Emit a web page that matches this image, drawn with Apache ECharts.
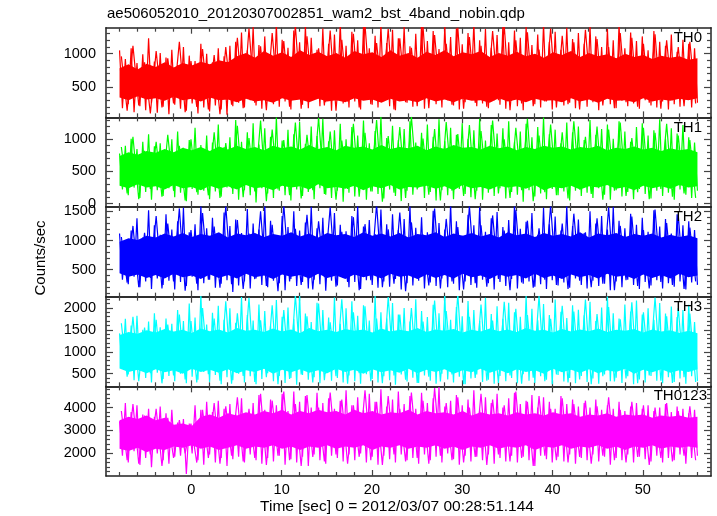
<!DOCTYPE html>
<html>
<head>
<meta charset="utf-8">
<script src="https://cdn.jsdelivr.net/npm/echarts@6/dist/echarts.min.js"></script>
<style>html,body{margin:0;padding:0;background:#fff}#chart{width:717px;height:516px}</style>
</head>
<body>
<div id="chart"></div>
<script>
const titleText = "ae506052010_20120307002851_wam2_bst_4band_nobin.qdp";
const xAxisTitle = "Time [sec] 0 = 2012/03/07 00:28:51.144";
const yAxisTitle = "Counts/sec";
const panelNames = ["TH0", "TH1", "TH2", "TH3", "TH0123"];
const panelColors = ["#ff0000", "#00ff00", "#0000ff", "#00ffff", "#ff00ff"];
const timeStart = -7.95;
const timeEnd = 56.05;
const xRange = [-9.45, 57.55];
const xMajorTicks = [0, 10, 20, 30, 40, 50];
const xMinorTicks = [-8, -6, -4, -2, 2, 4, 6, 8, 12, 14, 16, 18, 22, 24, 26, 28, 32, 34, 36, 38, 42, 44, 46, 48, 52, 54, 56];

const yRanges = [[41, 1391], [-52, 1341], [38, 1574], [211, 2257], [1013, 4926]];
const yMajorTicks = [[500, 1000], [0, 500, 1000], [500, 1000, 1500], [500, 1000, 1500, 2000], [2000, 3000, 4000]];
const yMinorStep = [100, 100, 100, 100, 200];

// spikes: alternating local maxima / minima of the light curve
const th0 = [
1050,180, 920,240, 1080,120, 860,210, 990,150, 1230,260, 880,110, 1010,200, 940,90, 1060,230,
830,170, 1100,140, 970,250, 890,100, 1150,190, 1000,130, 870,220, 1080,160, 960,80, 1120,210,
1180,260, 1320,190, 1050,300, 1400,220, 1130,170, 1260,330, 990,240, 1450,200, 1210,280, 1090,160,
1350,310, 1170,230, 1420,180, 1240,350, 1060,210, 1380,270, 1150,140, 1290,300, 1460,250, 1120,190,
1330,280, 1200,160, 1410,320, 1080,230, 1270,190, 1440,290, 1160,210, 1360,150, 1230,340, 1400,260,
1110,200, 1300,280, 1450,170, 1190,310, 1340,240, 1070,190, 1420,300, 1250,220, 1380,160, 1140,270,
1310,330, 1460,210, 1200,250, 1370,180, 1090,300, 1280,230, 1430,170, 1170,290, 1350,210, 1240,150,
1400,320, 1130,240, 1290,190, 1450,280, 1180,160, 1330,300, 1060,220, 1390,260, 1220,180, 1310,330,
1150,200, 1420,270, 1260,150, 1100,310, 1370,240, 1200,180, 1440,290, 1080,210, 1320,250, 1190,170,
1260,300, 1050,220, 1340,190, 1180,280, 1120,160, 1290,240, 1030,200, 1210,310, 1150,190, 1080,260
];
const th0Extra = [
960,140, 1120,220, 870,100, 1040,190, 930,250, 1180,120, 890,200, 1070,160, 980,90, 1100,230,
1240,180, 1380,260, 1110,150, 1310,290, 1190,200, 1420,170, 1260,310, 1080,220, 1350,140, 1210,280,
1300,190, 1440,240, 1160,300, 1370,160, 1230,270, 1090,210, 1410,180, 1280,320, 1150,230, 1390,170,
1250,260, 1120,200, 1340,300, 1430,150, 1200,250, 1320,210, 1060,280, 1380,190, 1270,240, 1170,160,
1360,300, 1220,220, 1100,180, 1310,270, 1240,200, 1150,260, 1290,170, 1200,300, 1100,210, 1180,250
];
const th1 = [
780,220, 900,130, 1010,250, 850,90, 960,180, 1080,60, 890,210, 940,120, 820,240, 1000,100,
1120,170, 870,40, 990,230, 1180,140, 910,200, 1060,70, 950,190, 1230,110, 880,250, 1030,150,
1300,60, 960,210, 1110,130, 1250,20, 920,240, 1170,160, 1040,90, 1340,200, 980,130, 1150,50,
1080,220, 1270,120, 930,180, 1200,70, 1050,240, 1320,140, 970,90, 1140,200, 1240,30, 1000,170,
1190,110, 1060,230, 1290,60, 940,190, 1130,150, 1350,80, 1020,220, 1210,120, 990,40, 1160,200,
1280,140, 950,250, 1100,90, 1230,180, 1040,50, 1310,210, 970,130, 1180,70, 1070,230, 1250,150,
1010,100, 1140,200, 1320,60, 980,170, 1220,120, 1090,240, 1170,80, 1280,180, 960,140, 1120,30,
1240,210, 1030,110, 1190,160, 1340,70, 1080,230, 1150,130, 940,190, 1260,50, 1110,200, 1200,120,
990,170, 1300,90, 1070,240, 1160,140, 1230,60, 1010,210, 1280,110, 1120,180, 960,70, 1190,230,
1250,150, 1060,80, 1140,200, 1310,120, 1000,170, 1170,60, 1090,220, 1220,140, 1030,90, 950,200
];
const th1Extra = [
880,160, 1040,70, 820,230, 960,110, 1070,200, 900,50, 1000,180, 850,130, 1110,90, 940,240,
1210,100, 1020,190, 1290,40, 1150,220, 990,130, 1260,80, 1070,210, 1330,150, 1120,60, 980,230,
1240,110, 1100,190, 1300,30, 1050,170, 1190,90, 1350,220, 1010,140, 1160,50, 1270,200, 1080,120,
1220,70, 1130,240, 1290,160, 1000,90, 1180,210, 1320,40, 1060,180, 1230,130, 1110,80, 1280,220,
1040,150, 1200,60, 1150,200, 1260,120, 1020,180, 1180,70, 1100,230, 1240,110, 1060,160, 990,90
];
const th2 = [
1120,330, 980,250, 1170,380, 1380,200, 1050,300, 1520,170, 1260,350, 1100,240, 1450,310, 1190,160,
1330,290, 1560,220, 1140,380, 1280,150, 1600,270, 1210,330, 1390,190, 1070,260, 1480,320, 1250,120,
1360,230, 1130,300, 1540,180, 1290,350, 1190,240, 1610,200, 1340,310, 1090,270, 1420,150, 1230,340,
1500,220, 1170,290, 1310,180, 1580,330, 1210,250, 1390,140, 1060,310, 1470,230, 1270,360, 1160,200,
1420,290, 1600,170, 1240,320, 1350,240, 1110,190, 1530,300, 1280,210, 1450,340, 1180,160, 1370,270,
1590,230, 1220,310, 1400,180, 1140,280, 1510,220, 1300,350, 1190,200, 1620,260, 1330,150, 1080,300,
1440,240, 1260,190, 1570,330, 1150,270, 1380,160, 1490,290, 1230,220, 1350,340, 1610,180, 1200,260,
1320,300, 1470,210, 1100,250, 1560,170, 1280,320, 1410,230, 1170,280, 1600,190, 1250,350, 1360,240,
1130,180, 1500,310, 1290,220, 1420,260, 1190,150, 1580,300, 1340,200, 1210,330, 1460,240, 1270,170,
1390,290, 1150,230, 1520,320, 1240,180, 1370,270, 1120,210, 1450,300, 1260,160, 1330,280, 1180,240
];
const th2Extra = [
1060,280, 1250,200, 1130,360, 1420,180, 1290,300, 1550,140, 1180,260, 1470,330, 1240,190, 1590,250,
1350,170, 1120,340, 1500,220, 1270,130, 1610,300, 1200,240, 1440,160, 1330,370, 1570,210, 1150,290,
1400,150, 1280,320, 1620,200, 1190,260, 1480,130, 1310,350, 1100,230, 1550,180, 1370,300, 1230,160,
1590,270, 1260,210, 1430,340, 1170,150, 1520,280, 1340,190, 1210,330, 1600,240, 1290,170, 1460,310,
1140,200, 1380,260, 1570,150, 1250,320, 1410,220, 1180,180, 1530,290, 1300,240, 1440,170, 1220,300
];
const th3 = [
1420,620, 1750,480, 1600,350, 1820,560, 1500,400, 1690,300, 1880,520, 1560,380, 1760,450, 1640,330,
1950,500, 1700,280, 2100,430, 1780,360, 2300,540, 1620,310, 1890,470, 2050,260, 1730,420, 1990,350,
1660,500, 2250,300, 1840,440, 1710,260, 2080,380, 1930,510, 1600,330, 2180,450, 1800,290, 2010,400,
1740,250, 2300,470, 1870,360, 1680,420, 2120,280, 1950,500, 1780,340, 2240,400, 1640,300, 1990,460,
2150,330, 1820,270, 2060,490, 1710,380, 2280,300, 1900,440, 1760,350, 2110,250, 1850,480, 2000,320,
1690,410, 2200,290, 1930,460, 1790,340, 2070,270, 1880,500, 2310,370, 1730,300, 2020,430, 1810,260,
2160,390, 1950,480, 1700,310, 2230,360, 1860,270, 2040,450, 1750,330, 2120,400, 1900,280, 1800,490,
2270,340, 1980,290, 1720,440, 2090,360, 1840,260, 2190,470, 1910,320, 1770,400, 2060,280, 1960,450,
1830,310, 2140,390, 1700,270, 2010,480, 2260,330, 1880,410, 1760,290, 2080,440, 1920,260, 2170,370,
1850,300, 1990,450, 1730,340, 2110,280, 1870,420, 2030,310, 1790,390, 1950,270, 2070,440, 1680,330
];
const th3Extra = [
1650,430, 1800,330, 1550,510, 1730,280, 1620,460, 1850,370, 1700,300, 2000,490, 1760,340, 2150,270,
1880,450, 2230,310, 1720,420, 2060,260, 1950,380, 2290,480, 1810,300, 2100,350, 1670,440, 2200,270,
1900,510, 2040,330, 1760,280, 2250,460, 1850,360, 2000,290, 1690,430, 2170,320, 1930,480, 2310,260,
1800,400, 2080,340, 1710,290, 2140,460, 1980,270, 1840,410, 2270,330, 1750,480, 2050,300, 1920,370,
2190,260, 1860,440, 2020,320, 1740,390, 2130,280, 1900,460, 2240,340, 1810,290, 2000,420, 1870,310
];
const th0123 = [
3400,1900, 4200,1600, 3800,2100, 4100,1500, 3700,1800, 3950,1400, 3600,2000, 4050,1700, 3750,1550, 3900,1850,
3350,1900, 3500,1100, 3300,2000, 4100,1700, 3900,1500, 4250,1950, 3800,1600, 4300,1800, 3950,1450, 4150,1750,
3700,1850, 4400,1600, 3600,1950, 4200,1700, 4550,1550, 3900,1800, 4350,1650, 4100,1900, 4600,1500, 3850,1750,
4700,1600, 4250,1850, 4500,1450, 4000,1950, 4650,1700, 4200,1550, 4400,1900, 3950,1800, 4300,1650, 4750,1950,
4100,1700, 4450,2000, 3900,1600, 4600,1850, 4250,1500, 4800,1900, 4050,1750, 4350,1600, 4700,1950, 4150,1700,
4500,1800, 3950,1550, 4650,1950, 4200,1700, 4400,1850, 4900,1600, 4050,2000, 4300,1750, 4550,1500, 4100,1900,
4350,1650, 4750,1850, 3900,1700, 4450,1950, 4200,1550, 4600,1800, 4000,1650, 4400,1900, 4650,1600, 4150,1850,
4300,1700, 4550,1450, 4000,1900, 4450,1750, 4250,1600, 3950,1850, 4500,1650, 4150,1950, 4350,1550, 4050,1800,
4200,1700, 4000,1950, 4350,1650, 3900,1850, 4100,1500, 3950,1800, 4250,1700, 3850,1950, 4050,1600, 4200,1850,
3950,1750, 4100,1650, 3850,1900, 4000,1600, 4150,1800, 3800,1700, 4050,1950, 3950,1550, 3750,1800, 3900,1900
];
const th0123Extra = [
3850,1700, 4150,1550, 3650,1950, 3950,1450, 3550,1800, 3450,2000, 3300,1600, 3900,1800, 4200,1550, 4050,1900,
4450,1650, 3950,1800, 4600,1500, 4300,1900, 4700,1700, 4150,1450, 4550,1850, 4000,1650, 4650,1950, 4350,1550,
4100,1850, 4750,1700, 4250,1500, 4500,1950, 3950,1650, 4650,1800, 4300,1550, 4850,1900, 4200,1700, 4450,1600,
4000,1850, 4600,1500, 4350,1950, 4100,1650, 4700,1800, 4250,1450, 4500,1900, 3950,1700, 4400,1600, 4150,1850,
4300,1550, 4050,1900, 4450,1700, 3900,1600, 4250,1850, 4100,1500, 4000,1800, 4200,1650, 3850,1900, 4050,1700
];

// dense core of each light curve, read every 1 s (lower and upper edge of the solid band)
const th0CoreLo = [340,300,360,310,330,290,350,300,320,280,340,300,310,270,320,280,300,260,330,290,310,270,320,280,300,270,330,290,310,260,320,280,300,270,330,280,310,270,320,290,300,260,330,280,310,270,320,290,300,270,330,280,310,260,320,290,300,270,330,280,310,290,320,300,330];
const th0CoreHi = [780,840,760,850,800,870,790,860,820,880,840,900,870,960,1010,940,1040,970,1020,950,1050,980,1030,960,1010,940,1040,990,1020,950,1050,970,1010,940,1030,980,1050,960,1020,990,1040,950,1010,970,1030,960,1000,940,1020,980,1040,950,1010,960,990,930,1000,950,980,920,970,940,960,910,930];
const th1CoreLo = [280,240,300,250,270,220,290,240,260,210,280,230,270,220,290,240,260,210,280,250,270,220,300,240,260,230,280,210,270,240,290,220,260,250,280,230,270,210,290,240,260,220,280,250,270,230,290,210,260,240,280,220,270,250,290,230,260,210,280,240,270,230,290,250,270];
const th1CoreHi = [740,800,760,820,790,850,800,870,830,880,820,890,840,900,850,880,830,900,860,890,840,910,850,880,830,900,870,890,840,910,850,880,860,900,830,890,850,910,870,880,840,900,860,890,830,880,850,900,870,890,840,880,860,900,830,870,850,890,840,870,820,860,830,850,800];
const th2CoreLo = [440,380,420,360,410,350,430,370,400,340,420,360,410,350,430,370,400,340,420,380,410,350,430,360,400,340,420,370,410,350,430,380,400,340,420,360,410,350,430,370,400,340,420,380,410,350,430,360,400,340,420,370,410,350,430,380,400,340,420,360,410,350,430,370,400];
const th2CoreHi = [980,1040,1010,1080,1050,1120,1070,1130,1060,1110,1080,1140,1050,1120,1090,1130,1060,1110,1080,1140,1070,1120,1050,1130,1090,1110,1060,1140,1080,1120,1070,1130,1050,1110,1090,1140,1060,1120,1080,1130,1070,1110,1050,1140,1090,1120,1060,1130,1080,1110,1070,1140,1050,1120,1090,1130,1060,1110,1080,1120,1050,1100,1060,1090,1040];
const th3CoreLo = [620,540,590,510,600,530,580,500,610,540,590,520,600,510,580,540,610,500,590,530,600,520,580,510,610,540,590,500,600,530,580,520,610,510,590,540,600,500,580,530,610,520,590,510,600,540,580,500,610,530,590,520,600,510,580,540,610,500,590,530,600,520,580,540,600];
const th3CoreHi = [1380,1450,1410,1490,1440,1520,1460,1500,1430,1530,1470,1510,1440,1540,1480,1500,1450,1530,1460,1510,1430,1540,1470,1500,1450,1520,1480,1510,1440,1530,1460,1500,1470,1540,1450,1510,1480,1520,1440,1500,1460,1530,1470,1510,1450,1540,1480,1500,1440,1520,1460,1510,1470,1530,1450,1500,1480,1520,1440,1510,1460,1490,1430,1480,1420];
const th0123CoreLo = [2200,2100,2250,2050,2200,2150,2300,2250,2350,2200,2300,2150,2250,2350,2200,2300,2250,2350,2200,2300,2150,2300,2250,2350,2200,2300,2250,2350,2150,2300,2250,2350,2200,2300,2250,2350,2200,2300,2150,2300,2250,2350,2200,2300,2250,2350,2150,2300,2250,2350,2200,2300,2250,2350,2200,2300,2150,2300,2250,2350,2200,2300,2250,2300,2250];
const th0123CoreHi = [3450,3600,3500,3650,3450,3550,3250,3300,3200,3600,3700,3550,3750,3650,3800,3700,3850,3750,3900,3700,3850,3750,3900,3800,3850,3700,3900,3750,3850,3700,3800,3750,3900,3700,3850,3750,3800,3700,3850,3650,3800,3700,3750,3650,3800,3700,3750,3650,3800,3700,3750,3600,3700,3650,3750,3600,3700,3650,3700,3550,3650,3600,3650,3550,3600];

const seriesValues = [th0, th1, th2, th3, th0123];
const extraValues = [th0Extra, th1Extra, th2Extra, th3Extra, th0123Extra];
const coreLows = [th0CoreLo, th1CoreLo, th2CoreLo, th3CoreLo, th0123CoreLo];
const coreHighs = [th0CoreHi, th1CoreHi, th2CoreHi, th3CoreHi, th0123CoreHi];

const gridLeft = 106, gridRight = 711, plotTop = 27.7, plotBottom = 476;
const panelH = (plotBottom - plotTop) / 5;
const FONT = "Liberation Sans";

const grids = [], xAxes = [], yAxes = [], series = [], graphics = [];
function minorList(range, step, majors) {
  const out = [];
  for (let v = Math.ceil(range[0] / step) * step; v <= range[1]; v += step) {
    if (majors.indexOf(v) < 0) out.push(v);
  }
  return out;
}
function timed(vals, t0, t1) {
  const step = (t1 - t0) / (vals.length - 1);
  return vals.map((v, i) => [t0 + i * step, v]);
}
const axisLineStyle = { color: "#222", width: 1.5 };
const tickStyle = { color: "#444", width: 1.2 };
const plainNumber = v => String(v);

for (let g = 0; g < 5; g++) {
  const top = plotTop + g * panelH;
  grids.push({ left: gridLeft, width: gridRight - gridLeft, top: top, height: panelH, containLabel: false });
  ["bottom", "top"].forEach(pos => {
    [[xMajorTicks, 6, true], [xMinorTicks, 4, false]].forEach(([ticks, len, isMajor]) => {
      const showLabel = isMajor && pos === "bottom" && g === 4;
      xAxes.push({
        type: "value", gridIndex: g, position: pos, min: xRange[0], max: xRange[1],
        axisLine: { show: isMajor, onZero: false, lineStyle: axisLineStyle },
        axisTick: { show: true, inside: true, length: len, customValues: ticks, lineStyle: tickStyle },
        axisLabel: showLabel ? { show: true, customValues: xMajorTicks, formatter: plainNumber, color: "#000", fontSize: 14.5, fontFamily: FONT, margin: 6 } : { show: false },
        splitLine: { show: false }
      });
    });
  });
  const majors = yMajorTicks[g];
  const minors = minorList(yRanges[g], yMinorStep[g], majors);
  ["left", "right"].forEach(pos => {
    [[majors, 7, true], [minors, 4, false]].forEach(([ticks, len, isMajor]) => {
      const showLabel = isMajor && pos === "left";
      yAxes.push({
        type: "value", gridIndex: g, position: pos, min: yRanges[g][0], max: yRanges[g][1],
        axisLine: { show: isMajor, onZero: false, lineStyle: axisLineStyle },
        axisTick: { show: true, inside: true, length: len, customValues: ticks, lineStyle: tickStyle },
        axisLabel: showLabel ? { show: true, customValues: majors, formatter: plainNumber, color: "#000", fontSize: 14.5, fontFamily: FONT, margin: 10 } : { show: false },
        splitLine: { show: false }
      });
    });
  });
  const color = panelColors[g];
  const lo = coreLows[g], hi = coreHighs[g];
  const cStep = (timeEnd - timeStart) / (lo.length - 1);
  const coreData = lo.map((v, i) => [timeStart + i * cStep, v, hi[i]]);
  series.push({
    type: "custom", xAxisIndex: g * 4, yAxisIndex: g * 4, silent: true, z: 1, clip: true,
    encode: { x: 0, y: [1, 2] },
    data: coreData,
    renderItem: (params, api) => {
      if (params.dataIndex !== 0) return null;
      const pts = [];
      for (let i = 0; i < coreData.length; i++) pts.push(api.coord([coreData[i][0], coreData[i][2]]));
      for (let i = coreData.length - 1; i >= 0; i--) pts.push(api.coord([coreData[i][0], coreData[i][1]]));
      return { type: "polygon", shape: { points: pts }, style: { fill: color, stroke: null } };
    }
  });
  series.push({
    type: "line", xAxisIndex: g * 4, yAxisIndex: g * 4, showSymbol: false, symbol: "none",
    data: timed(seriesValues[g], timeStart, timeEnd),
    lineStyle: { color: color, width: 1.2 }, itemStyle: { color: color },
    clip: true, silent: true, z: 2
  });
  series.push({
    type: "line", xAxisIndex: g * 4, yAxisIndex: g * 4, showSymbol: false, symbol: "none",
    data: timed(extraValues[g], timeStart + 0.2, timeEnd - 0.2),
    lineStyle: { color: color, width: 1.2 }, itemStyle: { color: color },
    clip: true, silent: true, z: 2
  });
  graphics.push({
    type: "text", x: g === 4 ? 707 : 702, y: top + 10,
    style: { text: panelNames[g], textAlign: "right", textVerticalAlign: "middle", font: "15px '" + FONT + "'", fill: "#000" }, z: 10
  });
}
graphics.push({ type: "text", x: 107, y: 14, style: { text: titleText, textAlign: "left", textVerticalAlign: "middle", font: "15px '" + FONT + "'", fill: "#000" } });
graphics.push({ type: "text", x: 397, y: 507, style: { text: xAxisTitle, textAlign: "center", textVerticalAlign: "middle", font: "15.5px '" + FONT + "'", fill: "#000" } });
graphics.push({ type: "text", x: 41, y: 258, rotation: Math.PI / 2, style: { text: yAxisTitle, textAlign: "center", textVerticalAlign: "middle", font: "15px '" + FONT + "'", fill: "#000" } });

const chart = echarts.init(document.getElementById("chart"), null, { renderer: "canvas" });
chart.setOption({
  animation: false,
  backgroundColor: "#fff",
  grid: grids, xAxis: xAxes, yAxis: yAxes, series: series, graphic: graphics
});
</script>
</body>
</html>
